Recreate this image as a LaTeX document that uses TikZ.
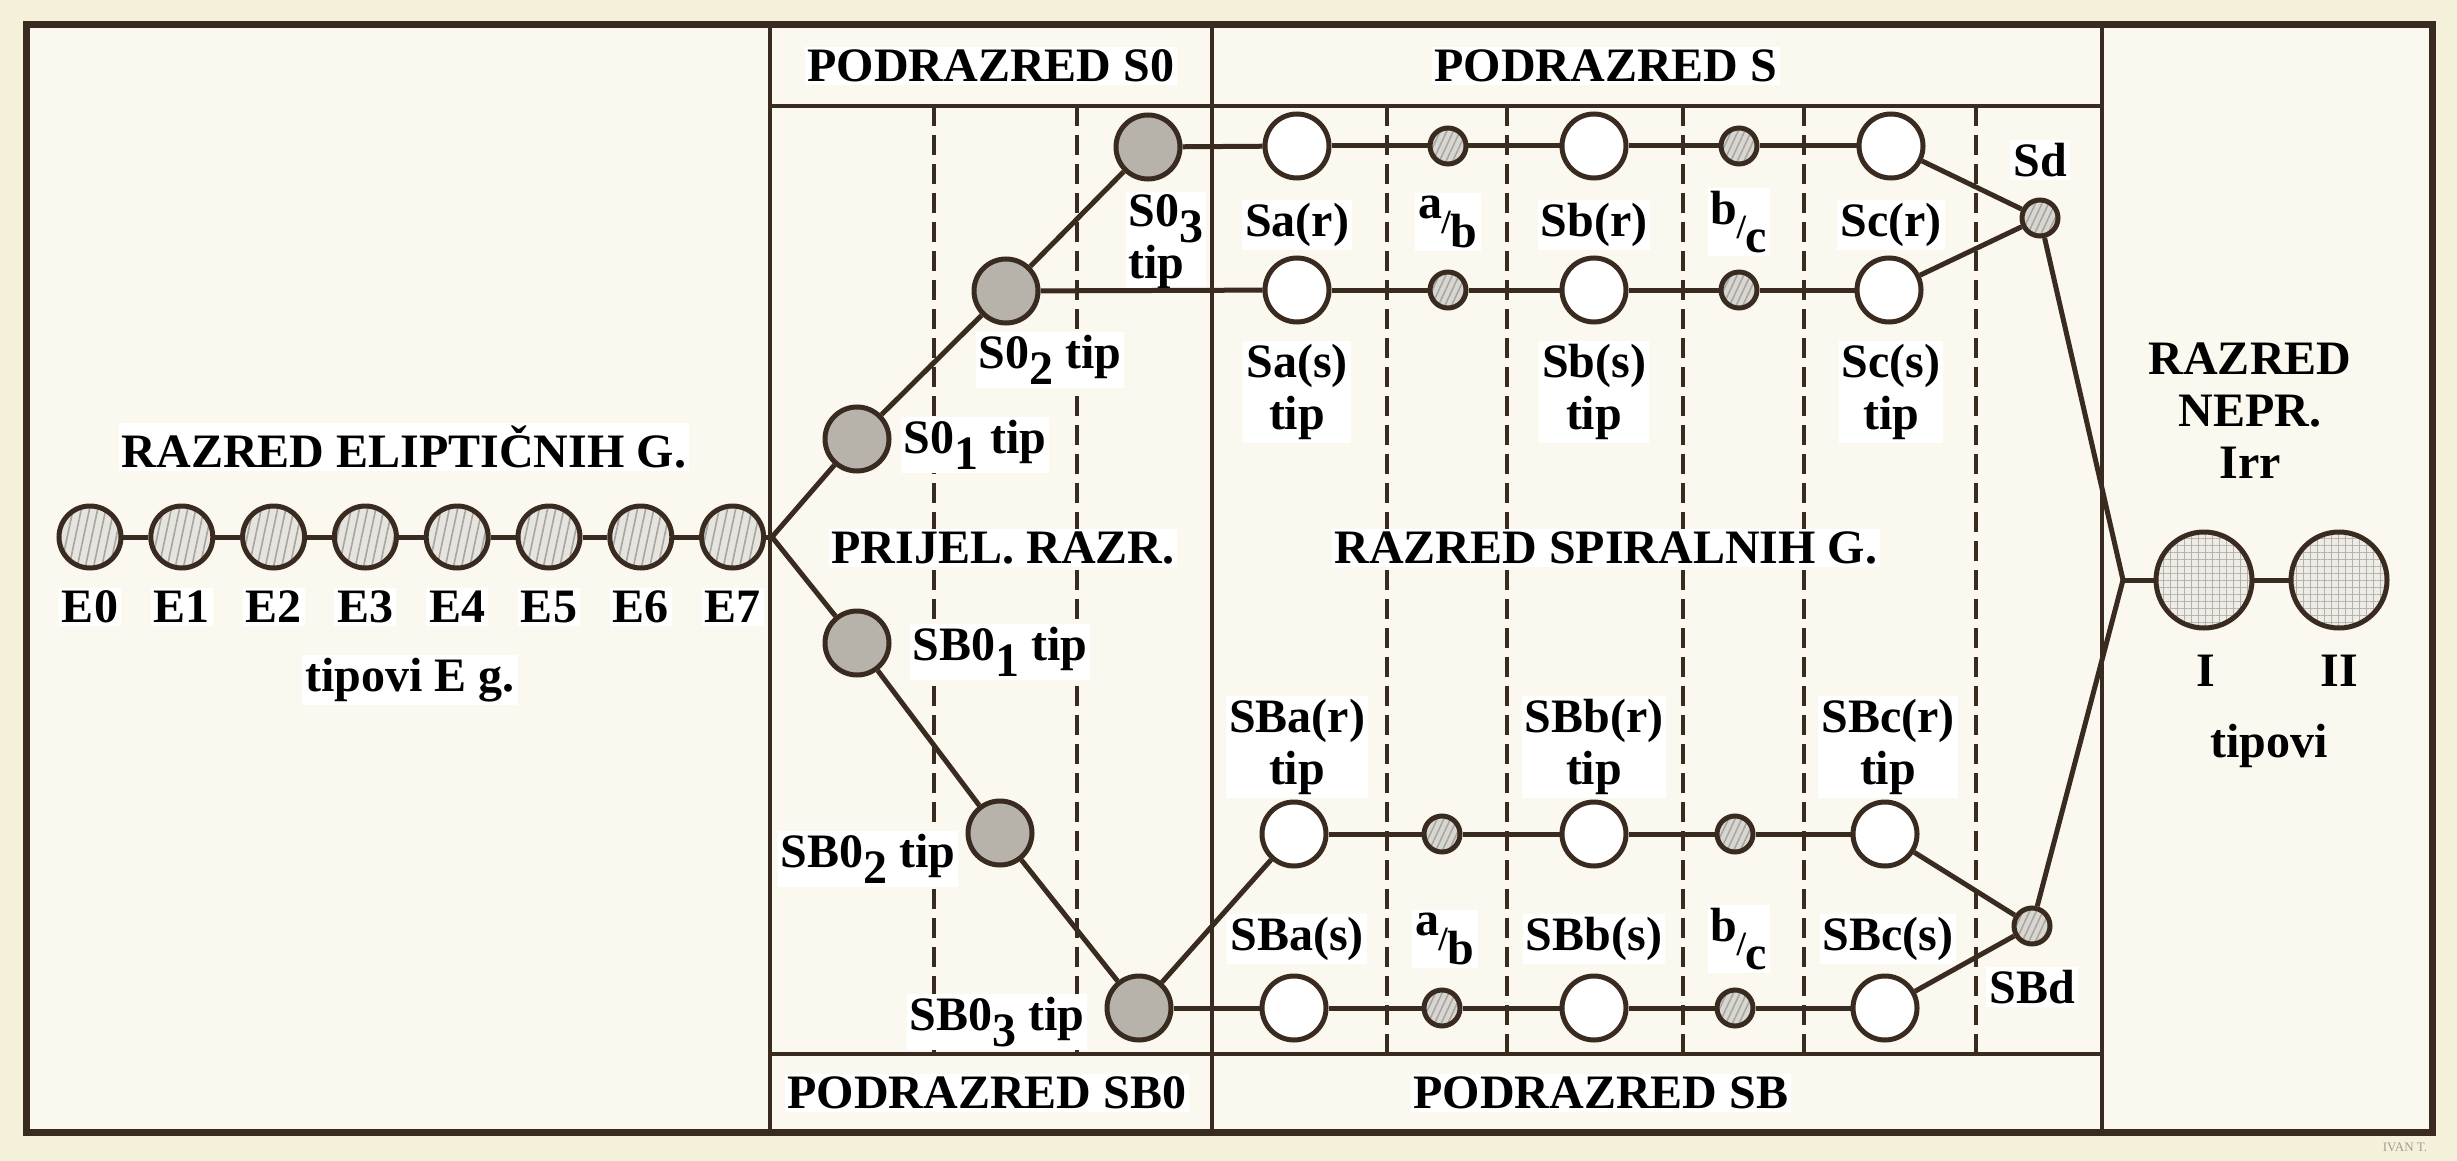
\documentclass[tikz,border=0pt]{standalone}
\usepackage{fontspec}
\setmainfont{Liberation Serif}
\usetikzlibrary{patterns.meta}
\definecolor{bgout}{HTML}{F5F0D9}
\definecolor{bgin}{HTML}{FBF9EF}
\definecolor{ink}{HTML}{3A2B20}
\definecolor{efill}{HTML}{E6E4DF}
\definecolor{ehatch}{HTML}{A8A5A0}
\definecolor{sofill}{HTML}{B7B3AB}
\definecolor{smfill}{HTML}{D8D6D1}
\definecolor{irrfill}{HTML}{EEECE6}
\definecolor{irrhatch}{HTML}{B5B2AB}
\definecolor{signgray}{HTML}{A39D92}
\newcommand\lblfont{\fontsize{48}{52}\selectfont\bfseries}
\newcommand\lowsub[1]{\raisebox{-0.33em}{#1}}
\newcommand\fracsl[2]{\raisebox{0.3em}{#1}\kern-0.02em{\fontsize{34}{34}\selectfont/}\raisebox{-0.3em}{#2}}
\begin{document}
\begin{tikzpicture}[x=1pt,y=-1pt,
  framestyle/.style={draw=ink, line width=7pt, line join=miter},
  divider/.style={draw=ink, line width=4.5pt},
  dashline/.style={draw=ink, line width=4pt, dash pattern=on 20pt off 9pt},
  lbl/.style={fill=white, inner sep=3pt, font=\lblfont, align=center, text=black},
  conn/.style={draw=ink, line width=5pt},
  ecirc/.style={circle, draw=ink, line width=5pt, minimum size=62pt, inner sep=0pt,
    preaction={fill=efill}, pattern={Lines[angle=78,distance=8pt,line width=1.6pt]}, pattern color=ehatch},
  socirc/.style={circle, draw=ink, line width=5pt, minimum size=64pt, inner sep=0pt, fill=sofill},
  opencirc/.style={circle, draw=ink, line width=5pt, minimum size=64pt, inner sep=0pt, fill=white},
  smallcirc/.style={circle, draw=ink, line width=5pt, minimum size=36pt, inner sep=0pt,
    preaction={fill=smfill}, pattern={Lines[angle=65,distance=6pt,line width=1.5pt]}, pattern color=ehatch},
  irrcirc/.style={circle, draw=ink, line width=5pt, minimum size=96pt, inner sep=0pt,
    preaction={fill=irrfill}, pattern={Hatch[angle=0,distance=7pt,line width=0.9pt]}, pattern color=irrhatch}
]
\useasboundingbox (0,0) rectangle (2457,1161);
\fill[bgout] (0,0) rectangle (2457,1161);
\fill[bgin] (26,25) rectangle (2432,1132);
% frame and section lines
\draw[framestyle] (26,25) rectangle (2432,1132);
\draw[divider] (770,25) -- (770,1132);
\draw[divider] (1212,25) -- (1212,1132);
\draw[divider] (2102,25) -- (2102,1132);
\draw[divider] (770,106) -- (2102,106);
\draw[divider] (770,1054) -- (2102,1054);
% dashed guide lines
\foreach \x in {934,1077,1387,1507,1683,1804,1976}
  \draw[dashline] (\x,106) -- (\x,1054);

% labels
\node[lbl] (hS0) at (991,66) {PODRAZRED S0};
\node[lbl] (hS) at (1606,66) {PODRAZRED S};
\node[lbl] (fSB0) at (987,1093) {PODRAZRED SB0};
\node[lbl] (fSB) at (1601,1093) {PODRAZRED SB};
\node[lbl] (lRE) at (404,447) {RAZRED ELIPTIČNIH G.};
\foreach \i in {0,...,7}
  \node[lbl] (lE\i) at ({90+91.8*\i},607) {E\i};
\node[lbl] (lTE) at (410,680) {tipovi E g.};
\node[lbl] (lS01) at (975,445) {S0\lowsub{1} tip};
\node[lbl] (lS02) at (1050,360) {S0\lowsub{2} tip};
\node[lbl, align=left] (lS03) at (1166,242) {S0\lowsub{3}\\tip};
\node[lbl] (lPR) at (1003,548) {PRIJEL. RAZR.};
\node[lbl] (lSB01) at (1000,652) {SB0\lowsub{1} tip};
\node[lbl] (lSB02) at (868,859) {SB0\lowsub{2} tip};
\node[lbl] (lSB03) at (997,1022) {SB0\lowsub{3} tip};
\node[lbl] (lRS) at (1606,548) {RAZRED SPIRALNIH G.};
\node[lbl] (lSar) at (1297,225) {Sa(r)};
\node[lbl] (lab1) at (1448,222) {\fracsl{a}{b}};
\node[lbl] (lSbr) at (1594,225) {Sb(r)};
\node[lbl] (lbc1) at (1739,222) {\fracsl{b}{c}};
\node[lbl] (lScr) at (1891,225) {Sc(r)};
\node[lbl] (lSas) at (1297,392) {Sa(s)\\tip};
\node[lbl] (lSbs) at (1594,392) {Sb(s)\\tip};
\node[lbl] (lScs) at (1891,392) {Sc(s)\\tip};
\node[lbl] (lSd) at (2040,160) {Sd};
\node[lbl] (lSBar) at (1297,747) {SBa(r)\\tip};
\node[lbl] (lSBbr) at (1594,747) {SBb(r)\\tip};
\node[lbl] (lSBcr) at (1888,747) {SBc(r)\\tip};
\node[lbl] (lSBas) at (1297,939) {SBa(s)};
\node[lbl] (lab2) at (1445,939) {\fracsl{a}{b}};
\node[lbl] (lSBbs) at (1594,939) {SBb(s)};
\node[lbl] (lbc2) at (1739,939) {\fracsl{b}{c}};
\node[lbl] (lSBcs) at (1888,939) {SBc(s)};
\node[lbl] (lSBd) at (2032,987) {SBd};
\node[lbl, fill=none] (lIrr) at (2250,411) {RAZRED\\NEPR.\\Irr};
\node[lbl, fill=none] (lI) at (2206,671) {I};
\node[lbl, fill=none] (lII) at (2339,671) {II};
\node[lbl, fill=none] (lTI) at (2269,746) {tipovi};
\node[font=\fontsize{13}{14}\selectfont, text=signgray, inner sep=0pt] (sign) at (2405,1147) {IVAN T.};

% circles
\foreach \i in {0,...,7}
  \node[ecirc] (E\i) at ({90+91.8*\i},537) {};
\coordinate (B) at (772,537);
\node[socirc] (S01) at (857,439) {};
\node[socirc] (S02) at (1006,291) {};
\node[socirc] (S03) at (1148,147) {};
\node[socirc] (SB01) at (857,643) {};
\node[socirc] (SB02) at (1000,833) {};
\node[socirc] (SB03) at (1139,1008) {};
% S rows
\node[opencirc] (Sar) at (1297,146) {};
\node[smallcirc] (ab1) at (1448,146) {};
\node[opencirc] (Sbr) at (1594,146) {};
\node[smallcirc] (bc1) at (1739,146) {};
\node[opencirc] (Scr) at (1891,146) {};
\node[opencirc] (Sas) at (1297,290) {};
\node[smallcirc] (ab2) at (1448,290) {};
\node[opencirc] (Sbs) at (1594,290) {};
\node[smallcirc] (bc2) at (1739,290) {};
\node[opencirc] (Scs) at (1889,290) {};
\node[smallcirc] (Sd) at (2040,218) {};
% SB rows
\node[opencirc] (SBar) at (1294,834) {};
\node[smallcirc] (ab3) at (1442,834) {};
\node[opencirc] (SBbr) at (1594,834) {};
\node[smallcirc] (bc3) at (1735,834) {};
\node[opencirc] (SBcr) at (1885,834) {};
\node[opencirc] (SBas) at (1294,1008) {};
\node[smallcirc] (ab4) at (1442,1008) {};
\node[opencirc] (SBbs) at (1594,1008) {};
\node[smallcirc] (bc4) at (1735,1008) {};
\node[opencirc] (SBcs) at (1885,1008) {};
\node[smallcirc] (SBd) at (2032,926) {};
% irregular
\coordinate (J) at (2123,580);
\node[irrcirc] (I) at (2204,580) {};
\node[irrcirc] (II) at (2339,580) {};

% connectors
\foreach \a/\b in {E0/E1,E1/E2,E2/E3,E3/E4,E4/E5,E5/E6,E6/E7,E7/B,
  B/S01,S01/S02,S02/S03,B/SB01,SB01/SB02,SB02/SB03,
  S03/Sar,Sar/ab1,ab1/Sbr,Sbr/bc1,bc1/Scr,Scr/Sd,
  S02/Sas,Sas/ab2,ab2/Sbs,Sbs/bc2,bc2/Scs,Scs/Sd,
  SB03/SBar,SBar/ab3,ab3/SBbr,SBbr/bc3,bc3/SBcr,SBcr/SBd,
  SB03/SBas,SBas/ab4,ab4/SBbs,SBbs/bc4,bc4/SBcs,SBcs/SBd,
  Sd/J,SBd/J,J/I,I/II}
  \draw[conn] (\a) -- (\b);
\end{tikzpicture}
\end{document}
